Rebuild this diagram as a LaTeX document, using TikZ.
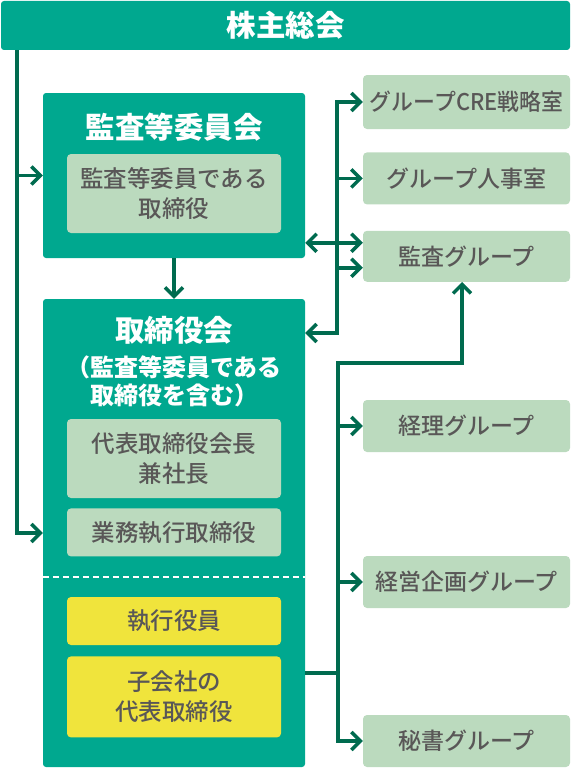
\documentclass[tikz,border=0pt]{standalone}
\usepackage{fontspec, graphicx}
\setmainfont{Noto Sans CJK JP}
\newfontfamily\medfont{Noto Sans CJK JP Medium}
\usetikzlibrary{arrows.meta, positioning}
\definecolor{boxgreen}{RGB}{0,168,143}
\definecolor{linegreen}{RGB}{0,107,79}
\definecolor{palegreen}{RGB}{187,218,190}
\definecolor{subyellow}{RGB}{240,228,60}
\definecolor{textgray}{RGB}{89,87,87}
\tikzset{main box/.style={fill=boxgreen,rounded corners=3pt,inner sep=0pt,text=white,
           font=\bfseries\fontsize{29.5}{30}\selectfont},
         title node/.style={text=white,align=center,inner sep=0pt},
         sub box/.style={fill=palegreen,rounded corners=4pt,inner sep=0pt,text=textgray,align=center,
           minimum width=214pt,font=\medfont\fontsize{23.5}{30}\selectfont},
         yellow box/.style={sub box,fill=subyellow},
         group node/.style={sub box,minimum width=207pt,minimum height=52pt,font=\medfont\fontsize{23}{30}\selectfont},
         link/.style={draw=linegreen,line width=3.5pt},
         arrow/.style={link,-{Straight Barb[length=9pt,width=18pt]}},
         twoway/.style={link,{Straight Barb[length=9pt,width=18pt]}-{Straight Barb[length=9pt,width=18pt]}},}

\begin{document}
\begin{tikzpicture}[x=1pt, y=-1pt]
       \useasboundingbox (0,0) rectangle (571,768);
       \node[main box, minimum width=569pt, minimum height=49pt] (agm) at (285.5,25.5) {株主総会};
       
       \node[main box, minimum width=262pt, minimum height=165pt] (kansa) at (174,175.5) {};
       \node[main box, minimum width=262pt, minimum height=468pt] (board) at (174,533) {};
       
       \node[title node, font=\bfseries\fontsize{29.5}{30}\selectfont] (kansaTitle) at (174,127) {監査等委員会};
       \node[sub box, minimum height=79pt] (kansaDir) at (174,193.5) {監査等委員である\\取締役};
       
       \node[title node, font=\bfseries\fontsize{29.5}{30}\selectfont] (boardTitle) at (174,330) {取締役会};
       \node[title node, font=\bfseries\fontsize{24}{28}\selectfont] (boardNote) at (174,381) {（監査等委員である\\取締役を含む）};
       \node[sub box, minimum height=79pt] (ceo) at (174,458.5) {代表取締役会長\\兼社長};
       \node[sub box, minimum height=48pt] (exec) [below = 10pt of ceo] {業務執行取締役};
       \node[yellow box, minimum height=48pt] (officer) at (174,621) {執行役員};
       \node[yellow box, minimum height=81pt] (subsid) [below = 11pt of officer] {子会社の\\代表取締役};
       
       \node[group node, minimum height=54pt] (cre) at (466.5,102) {\scalebox{0.95}[1]{グループCRE戦略室}};
       \node[group node] (hr) [below = 23pt of cre] {グループ人事室};
       \node[group node, minimum height=51pt] (audit) [below = 26pt of hr] {監査グループ};
       \node[group node] (acct) at (466.5,426) {経理グループ};
       \node[group node] (plan) at (466.5,582) {経営企画グループ};
       \node[group node] (sec) at (466.5,741) {秘書グループ};
       
       % separator inside board
       \coordinate (sep) at (174,577);
       \draw[white, line width=1.5pt, dash pattern=on 6pt off 4pt] (sep -| board.west) -- (sep -| board.east);
       
       % left trunk
       \coordinate (ltop) at (17,50);
       \draw[arrow] (ltop) |- (board.west);
       \draw[arrow] (ltop |- kansa.west) -- (kansa.west);
       \draw[arrow] (kansa) -- (board);
       
       % upper right trunk
       \coordinate (rt) at (337,333);
       \coordinate (auhi) at ([yshift=13.5pt]audit.west);
       \coordinate (aulo) at ([yshift=-11.5pt]audit.west);
       \draw[twoway] (cre.west) -| (rt) -- (rt -| board.east);
       \draw[arrow] (rt |- hr.west) -- (hr.west);
       \draw[twoway] (auhi -| kansa.east) -- (auhi);
       \draw[arrow] (rt |- aulo) -- (aulo);
       
       % lower right trunk
       \coordinate (lt) at (338,363);
       \coordinate (aubot) at ([xshift=-4.5pt]audit.south);
       \coordinate (bj) at (338,673);
       \draw[twoway] (sec.west) -| (lt) -| (aubot);
       \draw[arrow] (lt |- acct.west) -- (acct.west);
       \draw[arrow] (lt |- plan.west) -- (plan.west);
       \draw[link] (bj -| board.east) -- (bj);
\end{tikzpicture}
\end{document}
